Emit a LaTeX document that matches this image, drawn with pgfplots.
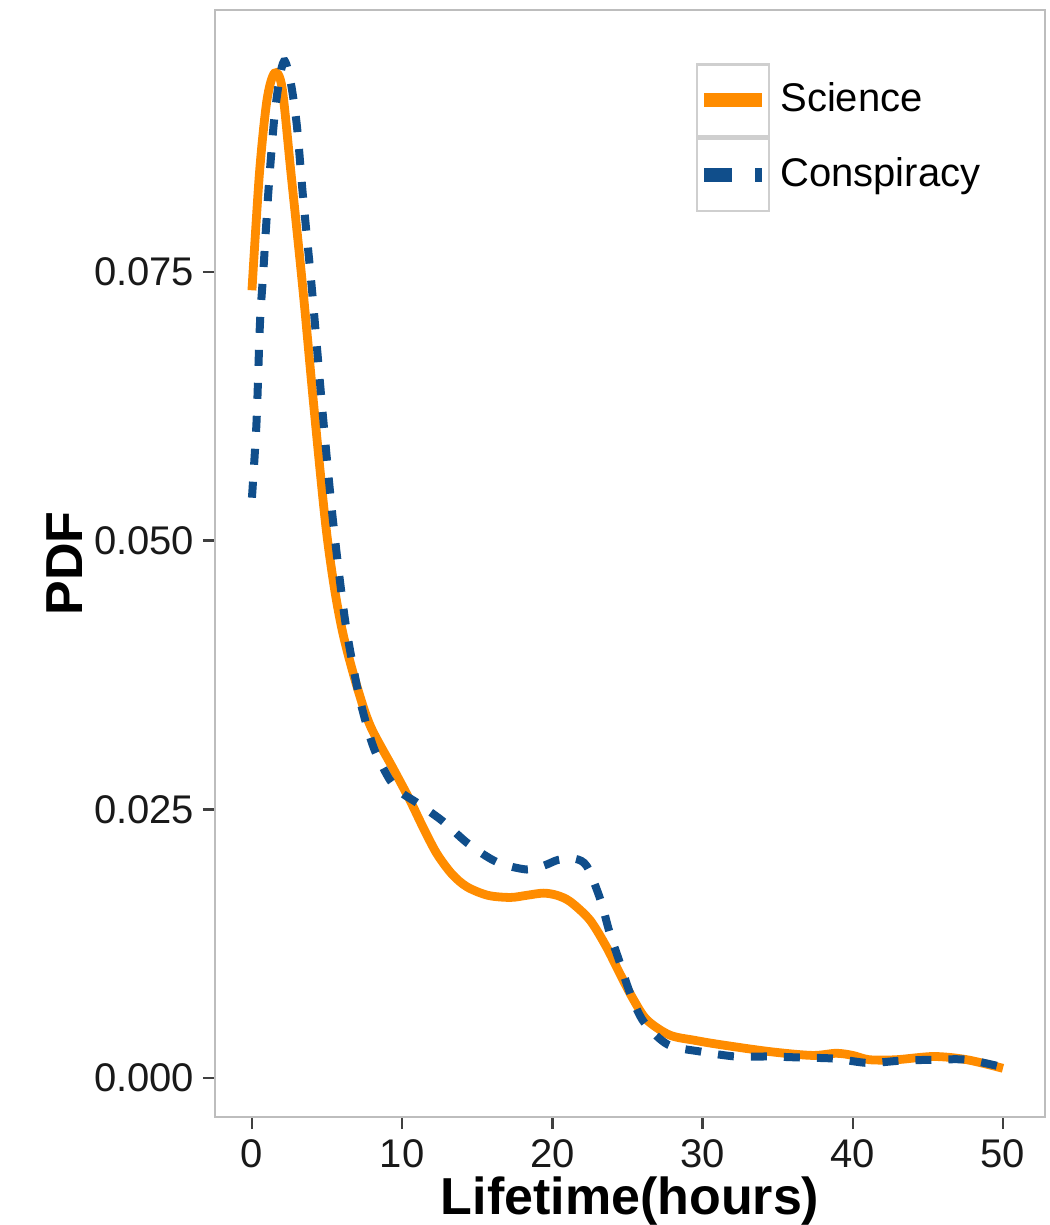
\documentclass[border=0pt]{standalone}
\usepackage{pgfplots}
\pgfplotsset{compat=1.18}
\usepackage{fontspec}
\setmainfont{Liberation Sans}
\definecolor{sciorange}{HTML}{FF8C00}
\definecolor{consblue}{HTML}{104E8B}
\definecolor{framegray}{HTML}{BDBDBD}
\definecolor{keygray}{HTML}{CFCFCF}
\begin{document}
\begin{tikzpicture}
\begin{axis}[
  name=ax,
  scale only axis,
  width=207.5pt, height=276.75pt,
  xmin=-2.46, xmax=52.8,
  ymin=-0.00363, ymax=0.09938,
  xtick={0,10,20,30,40,50},
  ytick={0,0.025,0.05,0.075},
  yticklabels={0.000,0.025,0.050,0.075},
  xtick pos=bottom, ytick pos=left,
  scaled y ticks=false,
  /pgf/number format/assume math mode=true,
  tick align=outside,
  major tick length=3pt,
  tick style={black!75, line width=0.6pt},
  axis line style={framegray, line width=0.7pt},
  ticklabel style={font=\fontsize{10}{12}\selectfont, text=black!90},
  yticklabel style={inner sep=2pt},
  xticklabel style={inner sep=2.5pt},
  xlabel={\bfseries Lifetime(hours)},
  ylabel={\bfseries PDF},
  label style={font=\fontsize{13}{15}\selectfont},
  x label style={at={(axis description cs:0.5,-0.076)}, anchor=center},
  y label style={at={(axis description cs:-0.1807,0.5)}, anchor=center},
  legend style={
    at={(axis description cs:0.578,0.953)}, anchor=north west,
    draw=none, fill=none, inner sep=0pt, row sep=0pt,
    font=\fontsize{10}{12}\selectfont,
    nodes={inner sep=2.5pt},
  },
  legend cell align=left,
]
\addplot[sciorange, line width=2.2pt, smooth, tension=0.5,
  legend image code/.code={
    \draw[draw=keygray, line width=0.7pt, solid] (0pt,-9pt) rectangle (18pt,9pt);
    \draw[sciorange, line width=3.5pt, solid] (1.8pt,0pt) -- (16.2pt,0pt);
  }] coordinates {
(0,0.0733) (0.5,0.0842) (1.0,0.0910) (1.5,0.0935) (2.0,0.0922) (2.6,0.0842)
(3.4,0.0733) (4.1,0.0628) (4.9,0.0516) (5.5,0.0455) (6.1,0.0411) (7.0,0.0364)
(7.9,0.0327) (9.4,0.0288) (10.5,0.0259) (11.4,0.0233) (12.3,0.0209) (13.3,0.0190)
(14.3,0.0178) (15.7,0.0170) (17.2,0.0168) (18.3,0.0170) (19.4,0.0172) (20.3,0.0170)
(21.2,0.0164) (22.5,0.0147) (23.6,0.0122) (24.5,0.0097) (25.4,0.0073) (26.3,0.0054)
(27.8,0.0040) (29.5,0.0035) (31.2,0.0031) (34.5,0.00245) (37.3,0.0021) (38.9,0.0023)
(40.0,0.0021) (41.1,0.0017) (42.9,0.0017) (45.4,0.0020) (47.6,0.0017) (50,0.0009)
};
\addlegendentry{Science}
\addplot[consblue, line width=2pt, dash pattern=on 4pt off 4.25pt, smooth, tension=0.5,
  legend image code/.code={
    \draw[draw=keygray, line width=0.7pt, solid] (0pt,-9pt) rectangle (18pt,9pt);
    \draw[consblue, line width=3.6pt, dash pattern=on 7pt off 5.75pt] (1.8pt,0pt) -- (16.2pt,0pt);
  }] coordinates {
(0,0.0540) (0.3,0.0609) (0.53,0.0701) (0.75,0.0749) (1.1,0.0826) (1.5,0.0895)
(1.9,0.0935) (2.2,0.0946) (2.6,0.0925) (3.0,0.0885) (3.4,0.0820) (4.0,0.0733)
(4.7,0.0620) (5.4,0.0518) (6.2,0.0426) (7.0,0.0364) (7.6,0.0330) (8.2,0.0304)
(9.2,0.0277) (10.0,0.0265) (11.0,0.0256) (12.7,0.0239) (14.4,0.0218) (16.3,0.0201)
(18.3,0.0194) (19.5,0.0198) (20.4,0.0203) (21.5,0.0204) (22.3,0.0197) (23.2,0.0166)
(23.8,0.0136) (24.5,0.0107) (25.2,0.0078) (26.1,0.0052) (27.7,0.0031) (29.9,0.00245)
(32.2,0.0020) (34.4,0.0020) (36.6,0.0019) (38.8,0.0018) (41.0,0.0014) (43.1,0.0016)
(45.4,0.0017) (47.6,0.0017) (50,0.0010)
};
\addlegendentry{Conspiracy}
\end{axis}
\pgfresetboundingbox
\path[use as bounding box] (ax.south west) ++(-53.75pt,-27pt) rectangle ++(262.5pt,306.25pt);
\end{tikzpicture}
\end{document}
